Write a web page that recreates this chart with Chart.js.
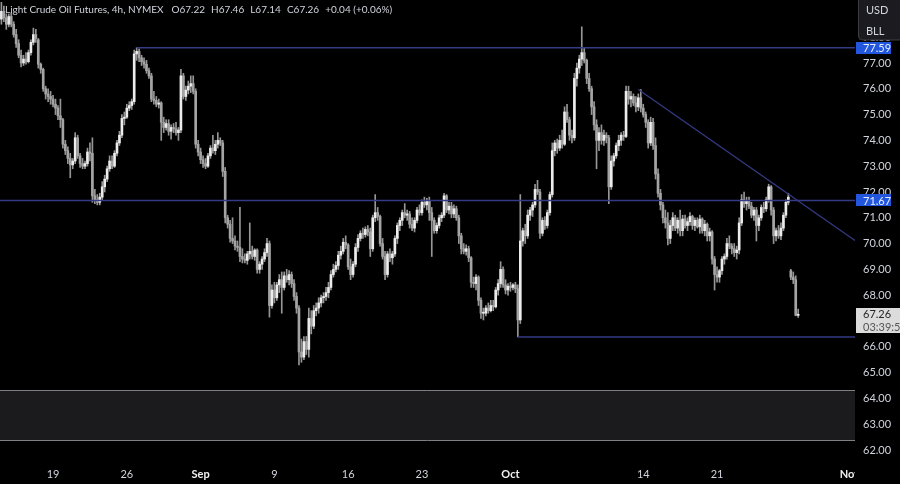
<!DOCTYPE html>
<html>
<head>
<meta charset="utf-8">
<script src="https://cdn.jsdelivr.net/npm/chart.js@4.4.1/dist/chart.umd.min.js"></script>
<style>
  html, body { margin: 0; padding: 0; background: #000; }
  #wrap { width: 900px; height: 484px; position: relative; }
</style>
</head>
<body>
<div id="wrap"><canvas id="c"></canvas></div>
<script>
// ---------- DATA (4h candles) ----------
const opens = [
78.7,79.0,78.75,78.5,78.8,78.5,78.1,77.75,77.3,77.0,77.15,77.05,77.4,77.8,78.1,77.9,76.95,76.75,76.0,75.8,
75.7,75.6,75.4,75.25,74.95,74.8,73.85,73.6,73.3,73.05,73.2,74.1,73.4,73.1,73.0,73.1,73.55,73.5,71.85,71.7,
71.6,71.8,72.2,72.5,72.9,73.2,73.0,73.5,73.9,74.2,74.85,74.9,75.25,75.35,75.5,77.35,77.45,77.2,77.05,76.95,
76.7,76.5,75.6,75.55,75.4,75.45,74.7,74.5,74.65,74.35,74.5,74.45,74.3,74.4,76.5,75.7,75.95,76.1,76.2,75.9,
73.85,73.55,73.25,73.1,73.0,73.4,73.7,73.6,73.85,74.0,73.9,72.8,71.0,70.75,70.2,70.1,69.9,69.85,69.5,69.4,
69.35,69.6,69.7,69.5,69.75,69.0,69.2,69.4,69.65,70.0,67.6,68.2,67.9,68.4,68.6,68.3,68.75,68.6,68.8,68.45,
67.95,67.5,65.8,65.6,66.2,65.9,67.1,66.8,67.4,67.5,67.7,67.9,67.95,68.1,68.3,68.8,69.0,69.15,69.55,69.7,
70.05,69.95,69.1,68.8,69.2,69.85,70.2,70.4,70.35,70.55,70.45,69.8,71.0,71.2,71.05,70.0,69.5,68.8,69.6,69.45,
69.6,70.2,70.7,70.9,71.2,71.1,71.15,70.75,70.6,70.9,71.3,71.2,71.6,71.5,71.65,71.2,70.9,70.5,70.7,71.0,
71.1,71.85,71.3,71.45,71.15,71.35,71.0,70.3,69.8,69.7,69.8,69.45,68.5,68.45,68.7,67.8,67.3,67.3,67.5,67.4,
67.6,67.55,68.2,68.45,69.0,68.4,68.2,68.35,68.3,68.4,68.25,67.04,70.1,70.5,70.3,71.1,71.3,71.5,72.1,72.0,
70.4,70.9,70.7,71.2,71.9,73.6,73.9,73.7,74.0,73.85,75.1,74.8,74.2,74.1,76.4,76.8,77.15,77.4,77.1,76.4,
76.0,75.3,74.6,74.0,74.3,74.0,74.2,74.1,72.2,73.2,73.4,73.8,74.0,74.2,74.15,75.9,75.6,75.7,75.45,75.3,
75.65,75.25,75.0,74.7,73.9,74.7,73.8,72.7,71.95,71.5,71.0,70.8,70.2,70.7,71.0,70.6,70.9,70.5,70.95,70.7,
70.85,71.05,70.7,70.9,70.65,70.95,70.5,70.75,70.3,70.45,69.4,68.8,68.7,68.95,69.4,69.5,70.0,69.9,69.8,69.65,
69.75,70.8,71.7,71.55,71.65,71.45,71.1,71.3,70.7,71.0,71.4,71.35,71.7,72.2,71.3,70.3,70.5,70.3,70.6,71.1,
71.6,68.95,68.7,68.6,67.22
];
const highs = [
79.35,79.2,78.9,78.9,78.95,78.6,78.3,77.9,77.5,77.3,77.4,77.5,77.9,78.35,78.3,77.95,77.0,76.8,76.1,76.0,
75.9,75.75,75.6,75.35,75.6,74.85,74.0,73.75,73.5,73.3,74.3,74.2,73.5,73.3,73.2,73.7,73.9,74.1,72.1,71.9,
71.95,72.4,72.65,73.0,73.4,73.4,73.6,74.0,74.35,75.0,75.1,75.4,75.5,75.6,77.5,77.59,77.55,77.3,77.2,77.1,
76.8,76.6,75.9,75.7,75.6,75.5,74.9,74.8,74.8,74.6,74.65,74.7,74.5,76.75,76.6,76.1,76.3,76.5,76.5,76.0,
74.0,73.7,73.4,73.3,73.5,73.8,74.2,74.0,74.3,74.1,74.0,72.95,71.1,70.9,71.0,70.3,70.1,71.4,69.8,69.6,
69.7,70.8,69.9,69.8,69.8,69.3,69.5,69.8,70.2,70.1,68.4,68.5,68.5,68.8,68.9,68.9,69.0,68.95,68.9,68.6,
68.1,67.6,66.3,66.4,66.4,67.5,67.4,67.6,67.7,67.9,68.0,68.1,68.3,68.5,68.95,69.2,69.3,69.7,69.9,70.2,
70.3,70.0,69.4,69.3,70.0,70.35,70.5,70.6,70.65,70.7,70.6,71.1,71.9,71.4,71.1,70.2,69.7,69.7,69.8,69.7,
70.3,70.8,71.0,71.3,71.55,71.3,71.25,71.0,71.0,71.4,71.5,71.7,71.8,71.75,71.8,71.4,71.0,70.8,71.1,71.2,
71.95,71.9,71.6,71.6,71.5,71.45,71.1,70.4,70.0,69.95,69.9,69.5,68.7,68.8,68.75,67.9,67.5,67.6,67.7,67.8,
67.8,68.3,68.6,69.3,69.1,68.6,68.45,68.5,68.45,68.5,68.4,71.9,70.6,70.75,71.3,71.4,71.6,72.3,72.45,72.1,
71.0,71.05,71.3,72.0,73.9,74.0,74.05,74.2,74.4,75.3,75.4,74.9,74.4,76.6,77.0,77.3,78.4,77.6,77.15,76.6,
76.1,75.5,74.8,74.5,74.6,74.4,74.3,74.2,73.4,73.5,73.9,74.2,74.3,74.35,76.1,76.1,75.9,75.8,75.7,75.8,
75.97,75.4,75.1,74.8,74.9,74.85,74.1,72.9,72.1,71.6,71.3,71.2,70.9,71.2,71.1,71.0,71.3,71.1,71.1,71.0,
71.2,71.1,71.0,71.0,71.1,71.0,70.9,70.8,70.6,70.5,69.5,69.1,69.0,69.5,69.6,70.2,70.3,70.0,70.0,69.9,
71.0,71.9,72.0,71.8,71.8,71.6,71.4,71.4,71.1,71.5,71.6,71.8,72.3,72.25,71.4,70.6,70.7,70.8,71.2,71.7,
71.95,69.0,68.9,68.75,67.46
];
const lows = [
78.5,78.6,78.3,78.4,78.4,78.0,77.6,77.2,76.85,76.9,76.95,77.0,77.3,77.7,77.8,76.8,76.6,75.9,75.6,75.5,
75.4,75.3,75.0,74.8,74.5,73.7,73.45,73.1,72.55,72.9,73.1,73.3,72.95,72.9,72.9,73.0,73.2,71.6,71.55,71.5,
71.5,71.7,72.0,72.4,72.8,72.9,72.95,73.4,73.8,74.1,74.6,74.85,75.15,75.2,75.4,77.1,77.05,76.9,76.8,76.6,
76.4,75.5,75.4,75.3,75.25,74.0,74.3,74.4,74.2,74.05,74.3,74.2,74.0,74.3,75.6,75.55,75.8,75.85,75.8,73.7,
73.4,73.1,72.95,72.9,72.95,73.3,73.5,73.45,73.7,73.8,72.6,70.8,70.6,70.05,70.0,69.75,69.7,69.3,69.25,69.25,
69.2,69.4,69.4,69.35,68.85,68.85,69.0,69.3,69.5,67.15,67.5,67.7,67.8,68.1,67.3,68.2,68.5,68.4,68.3,67.8,
67.3,65.3,65.4,65.5,65.7,65.6,66.5,66.7,67.2,67.3,67.55,67.7,67.8,67.9,68.2,68.7,68.9,69.0,69.4,69.6,
69.8,69.0,68.6,68.7,69.1,69.7,70.1,70.2,70.25,70.3,69.5,69.7,70.85,70.9,69.9,69.4,68.6,68.7,69.3,69.2,
69.5,70.0,70.5,70.7,71.0,70.9,70.6,70.5,70.45,70.8,71.1,71.1,71.4,71.3,70.9,69.5,70.4,70.4,70.6,70.85,
71.0,71.2,71.15,71.0,71.0,70.9,70.0,69.6,69.6,69.55,69.3,68.3,68.3,68.2,67.6,67.1,67.04,67.2,67.3,67.35,
67.4,67.5,68.0,68.3,68.3,68.05,68.0,68.15,68.2,68.1,66.38,66.9,69.9,70.0,70.2,70.9,71.05,71.4,71.9,70.2,
70.3,70.55,70.6,71.1,71.8,73.4,73.5,73.6,73.7,73.8,74.7,74.0,73.9,74.0,76.1,76.6,76.9,77.0,76.2,75.9,
75.0,74.4,72.9,73.6,73.85,73.8,73.9,71.55,72.1,73.0,73.3,73.6,73.8,74.0,74.1,75.4,75.3,75.35,75.1,75.15,
75.1,74.9,74.5,73.7,73.8,73.65,72.5,71.8,71.3,70.8,70.6,69.95,70.0,70.5,70.5,70.4,70.3,70.3,70.6,70.5,
70.7,70.55,70.5,70.6,70.4,70.4,70.3,70.1,70.1,69.2,68.2,68.5,68.5,68.8,69.2,69.4,69.8,69.6,69.5,69.4,
69.6,70.7,71.4,71.3,71.35,71.0,70.9,70.1,70.5,70.9,71.2,71.25,71.6,71.1,70.0,70.1,70.2,70.15,70.5,71.0,
71.5,68.6,68.45,67.2,67.14
];
const closes = [
79.0,78.75,78.5,78.8,78.5,78.1,77.75,77.3,77.0,77.15,77.05,77.4,77.8,78.1,77.95,76.95,76.75,76.0,75.8,75.7,
75.6,75.4,75.25,74.95,74.8,73.85,73.6,73.3,73.05,73.2,74.1,73.4,73.1,73.0,73.1,73.55,73.5,71.85,71.7,71.6,
71.8,72.2,72.5,72.9,73.2,73.0,73.5,73.9,74.2,74.85,74.9,75.25,75.35,75.5,77.35,77.45,77.2,77.05,76.95,76.7,
76.5,75.6,75.55,75.4,75.45,74.7,74.5,74.65,74.35,74.5,74.45,74.3,74.4,76.5,75.7,75.95,76.1,76.2,75.9,73.85,
73.55,73.25,73.1,73.0,73.4,73.7,73.6,73.85,74.0,73.9,72.8,71.0,70.75,70.2,70.1,69.9,69.85,69.5,69.4,69.35,
69.6,69.7,69.5,69.75,69.0,69.2,69.4,69.65,70.0,67.6,68.2,67.9,68.4,68.6,68.3,68.75,68.6,68.8,68.45,67.95,
67.5,65.8,65.6,66.2,65.9,67.1,66.8,67.4,67.5,67.7,67.9,67.95,68.1,68.3,68.8,69.0,69.15,69.55,69.7,70.05,
69.95,69.1,68.8,69.2,69.85,70.2,70.4,70.35,70.55,70.45,69.8,71.0,71.2,71.05,70.0,69.5,68.8,69.6,69.45,69.6,
70.2,70.7,70.9,71.2,71.1,71.15,70.75,70.6,70.9,71.3,71.2,71.6,71.5,71.65,71.2,70.9,70.5,70.7,71.0,71.1,
71.85,71.3,71.45,71.15,71.35,71.0,70.3,69.8,69.7,69.8,69.45,68.5,68.45,68.7,67.8,67.3,67.3,67.5,67.4,67.6,
67.55,68.2,68.45,69.0,68.4,68.2,68.35,68.3,68.4,68.25,67.04,70.1,70.5,70.3,71.1,71.3,71.5,72.1,72.0,70.4,
70.9,70.7,71.2,71.9,73.6,73.9,73.7,74.0,73.85,75.1,74.8,74.2,74.1,76.4,76.8,77.15,77.4,77.1,76.4,76.0,
75.3,74.6,74.0,74.3,74.0,74.2,74.1,72.2,73.2,73.4,73.8,74.0,74.2,74.15,75.9,75.6,75.7,75.45,75.3,75.65,
75.25,75.0,74.7,73.9,74.7,73.8,72.7,71.95,71.5,71.0,70.8,70.2,70.7,71.0,70.6,70.9,70.5,70.95,70.7,70.85,
71.05,70.7,70.9,70.65,70.95,70.5,70.75,70.3,70.45,69.4,68.8,68.7,68.95,69.4,69.5,70.0,69.9,69.8,69.65,69.75,
70.8,71.7,71.55,71.65,71.45,71.1,71.3,70.7,71.0,71.4,71.35,71.7,72.2,71.3,70.3,70.5,70.3,70.6,71.1,71.6,
71.8,68.7,68.6,67.22,67.26
];

// x-axis labels (candle index where each label sits)
const xTickIdx    = [21, 51, 81, 111, 141, 171, 207, 261, 291, 345];
const xTickLabels = ['19', '26', 'Sep', '9', '16', '23', 'Oct', '14', '21', 'Nov'];
const monthLabels = ['Sep', 'Oct', 'Nov'];
// y-axis ticks
const yTicks = [62,63,64,65,66,67,68,69,70,71,72,73,74,75,76,77,78,79];

// drawn levels
const resistanceLevel = 77.59, resistanceFrom = 55;
const pivotLevel = 71.67;
const supportLevel = 66.38, supportFrom = 210;
const trendIdx = [259, 347.1];
const trendPx  = [75.97, 70.12];
const zonePrices = [64.33, 62.39];
const lastPrice = 67.26;
const countdown = '03:39:54';
const titleParts = ['Light Crude Oil Futures, 4h, NYMEX', 'O67.22', 'H67.46', 'L67.14', 'C67.26', '+0.04 (+0.06%)'];
const unitLabels = ['USD', 'BLL'];

// ---------- CHART ----------
const X_MIN = -0.57, X_MAX = 347.1, Y_MIN = 61.535, Y_MAX = 79.44;
const FONT = 'Lato, "Liberation Sans", sans-serif';
const TXT = '#d1d4dc';
const UP = '#ececec', DOWN = '#a4a4a4', WICK = '#969696';
const LINE = '#343a84';
const TITLE_GAPS = [8, 6, 6, 6, 6];

const wickData = lows.map((l, i) => ({ x: i, y: [l, highs[i]] }));
const bodyData = opens.map((o, i) => ({ x: i, y: [o, closes[i]] }));
const isUp = (i) => closes[i] >= opens[i];

const overlay = {
  id: 'overlay',
  beforeDatasetsDraw(chart) {
    const { ctx, chartArea: a, scales: { y } } = chart;
    const t = Math.round(y.getPixelForValue(zonePrices[0]));
    const b = Math.round(y.getPixelForValue(zonePrices[1]));
    ctx.save();
    ctx.fillStyle = '#1b1b1d';
    ctx.fillRect(a.left, t, a.right - a.left, b - t);
    ctx.strokeStyle = '#7f7f84';
    ctx.lineWidth = 1;
    ctx.beginPath();
    ctx.moveTo(a.left, t + 0.5); ctx.lineTo(a.right, t + 0.5);
    ctx.moveTo(a.left, b + 0.5); ctx.lineTo(a.right, b + 0.5);
    ctx.stroke();
    ctx.restore();
  },
  afterDraw(chart) {
    const { ctx, chartArea: a, scales: { y } } = chart;
    ctx.save();
    // price pane ends at the price scale: hide what spills past it on the time axis
    ctx.fillStyle = '#000';
    ctx.fillRect(a.right, a.bottom, chart.width - a.right, chart.height - a.bottom);

    ctx.font = '11px ' + FONT;
    ctx.textBaseline = 'middle';
    ctx.textAlign = 'left';
    // blue level tags
    [resistanceLevel, pivotLevel].forEach(v => {
      const py = y.getPixelForValue(v);
      ctx.fillStyle = '#2256dc';
      ctx.fillRect(a.right + 1, Math.round(py) - 6, 35, 12);
      ctx.fillStyle = '#e8eeff';
      ctx.fillText(v.toFixed(2), a.right + 8, py + 0.5);
    });
    // last price tag
    const lp = y.getPixelForValue(lastPrice);
    ctx.fillStyle = '#dcdcdc';
    ctx.fillRect(a.right + 1, Math.round(lp) - 6, chart.width - a.right, 25);
    ctx.fillStyle = '#262626';
    ctx.fillText(lastPrice.toFixed(2), a.right + 8, lp + 0.5);
    ctx.fillStyle = '#555';
    ctx.fillText(countdown, a.right + 8, lp + 13);
    // currency / unit box
    ctx.fillStyle = '#1c1c20';
    ctx.strokeStyle = '#3c3c42';
    ctx.beginPath();
    ctx.roundRect(a.right + 3.5, -5, 50, 45, 4);
    ctx.fill(); ctx.stroke();
    ctx.fillStyle = TXT;
    ctx.fillText(unitLabels[0], a.right + 11, 10);
    ctx.fillText(unitLabels[1], a.right + 11, 31);
    // title
    ctx.font = '10px ' + FONT;
    let tx = 5;
    titleParts.forEach((s, k) => {
      ctx.fillText(s, tx, 10);
      tx += ctx.measureText(s).width + (TITLE_GAPS[k] || 6);
    });
    ctx.restore();
  }
};

new Chart(document.getElementById('c'), {
  type: 'bar',
  data: {
    datasets: [
      { type: 'line', data: [{ x: resistanceFrom, y: resistanceLevel }, { x: X_MAX, y: resistanceLevel }],
        borderColor: LINE, borderWidth: 1.5, pointRadius: 0, order: 0 },
      { type: 'line', data: [{ x: X_MIN, y: pivotLevel }, { x: X_MAX, y: pivotLevel }],
        borderColor: LINE, borderWidth: 1.5, pointRadius: 0, order: 0 },
      { type: 'line', data: [{ x: supportFrom, y: supportLevel }, { x: X_MAX, y: supportLevel }],
        borderColor: LINE, borderWidth: 1.5, pointRadius: 0, order: 0 },
      { type: 'line', data: trendIdx.map((v, k) => ({ x: v, y: trendPx[k] })),
        borderColor: LINE, borderWidth: 1.3, pointRadius: 0, order: 0 },
      { label: 'wicks', data: wickData, backgroundColor: WICK, barThickness: 1,
        grouped: false, order: 3 },
      { label: 'bodies', data: bodyData, minBarLength: 1, barThickness: 2, grouped: false, order: 2,
        backgroundColor: (c) => isUp(c.dataIndex) ? UP : DOWN }
    ]
  },
  options: {
    responsive: true,
    maintainAspectRatio: false,
    animation: false,
    devicePixelRatio: 1,
    events: [],
    layout: { padding: 0 },
    plugins: { legend: { display: false }, tooltip: { enabled: false } },
    scales: {
      x: {
        type: 'linear', position: 'bottom', min: X_MIN, max: X_MAX, offset: false,
        grid: { display: false, drawTicks: false }, border: { display: false },
        afterBuildTicks: (s) => { s.ticks = xTickIdx.map(v => ({ value: v })); },
        afterFit: (s) => { s.height = 22; s.paddingLeft = 0; s.paddingRight = 0; },
        ticks: {
          autoSkip: false, maxRotation: 0, padding: 6,
          callback: (v, i) => xTickLabels[i],
          color: (c) => monthLabels.includes(xTickLabels[c.index]) ? '#f0f0f0' : TXT,
          font: (c) => ({ family: FONT, size: 11,
            weight: monthLabels.includes(xTickLabels[c.index]) ? 'bold' : 'normal' })
        }
      },
      y: {
        type: 'linear', position: 'right', min: Y_MIN, max: Y_MAX,
        grid: { display: false, drawTicks: false }, border: { display: false },
        afterBuildTicks: (s) => { s.ticks = yTicks.map(v => ({ value: v })); },
        afterFit: (s) => { s.width = 45; s.paddingTop = 0; s.paddingBottom = 0; },
        ticks: { padding: 8, color: TXT, font: { family: FONT, size: 11 },
          callback: (v) => Number(v).toFixed(2) }
      }
    }
  },
  plugins: [overlay]
});
</script>
</body>
</html>
